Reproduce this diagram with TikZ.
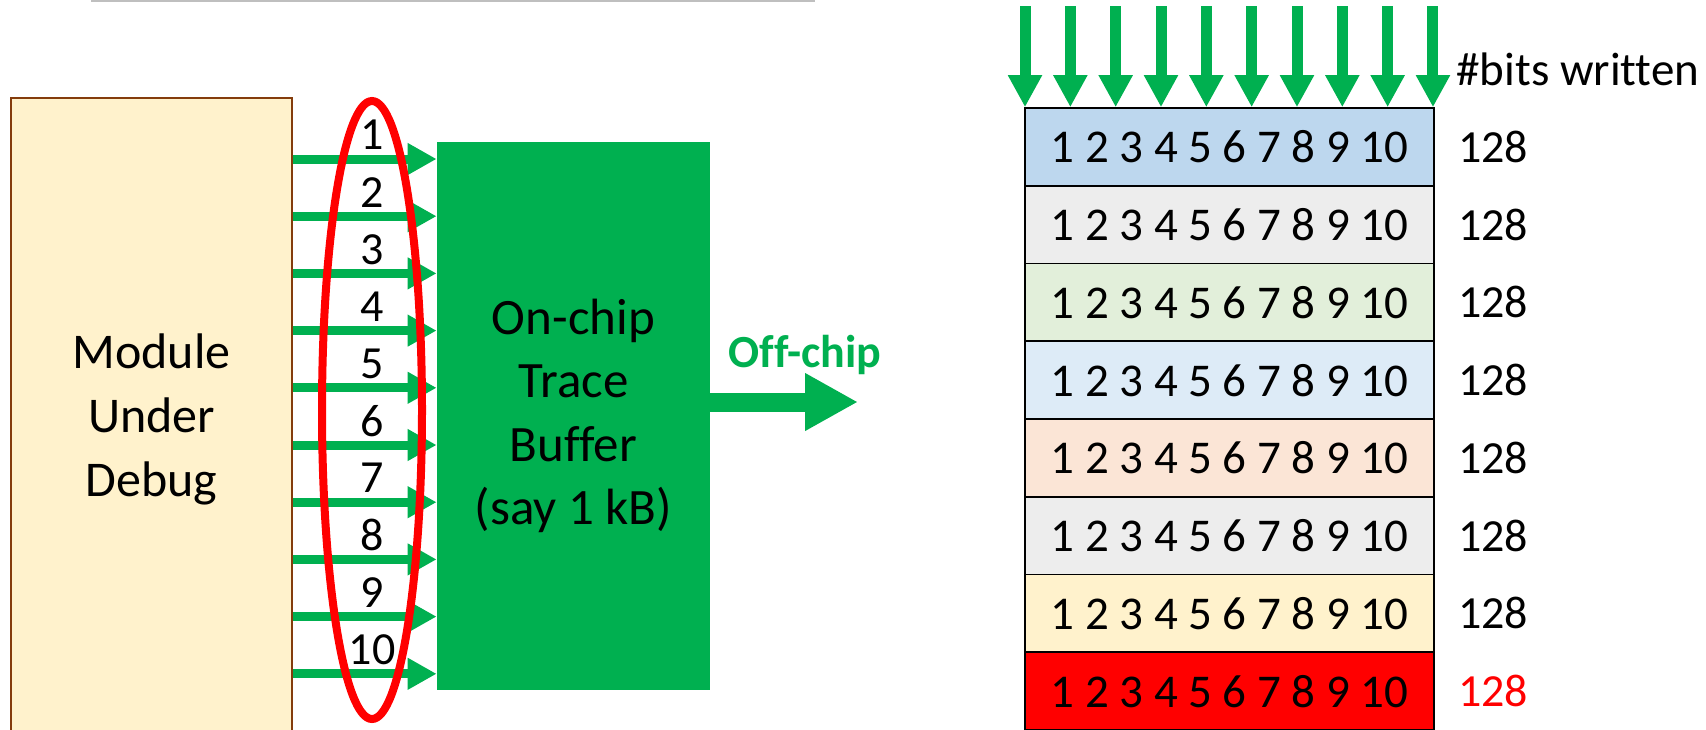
\documentclass[tikz,border=0pt]{standalone}
\usepackage{fontspec}
\setmainfont{Carlito}[Ligatures=NoCommon]
\usetikzlibrary{arrows.meta,positioning,shapes.geometric}
\definecolor{trgreen}{HTML}{00B050}
\definecolor{mudfill}{HTML}{FFF2CC}
\definecolor{mudline}{HTML}{843C0C}
\definecolor{rowA}{HTML}{BDD7EE}
\definecolor{rowB}{HTML}{EDEDED}
\definecolor{rowC}{HTML}{E2EFDA}
\definecolor{rowD}{HTML}{DDEBF7}
\definecolor{rowE}{HTML}{FBE5D6}
\definecolor{rulegray}{HTML}{BFBFBF}
\tikzset{
  box/.style    = {inner sep=0pt, align=center},
  bus/.style    = {-{Triangle[length=14.5pt,width=15pt]}, line width=4.5pt, trgreen},
  drop/.style   = {-{Triangle[length=16pt,width=16pt]}, line width=5.5pt, trgreen},
  offbus/.style = {-{Triangle[length=26.5pt,width=27pt]}, line width=9.5pt, trgreen},
  slot/.style   = {draw=black, line width=0.8pt, minimum width=204.5pt, minimum height=38.875pt,
                   inner sep=0pt, font=\fontsize{23.5}{28}\selectfont},
  bitlbl/.style = {inner sep=0pt, font=\fontsize{23}{28}\selectfont},
}
\begin{document}
\begin{tikzpicture}[x=0.5pt,y=-0.5pt]
  \clip (0,0) rectangle (1706,729);
  \draw[line width=1pt, rulegray] (91,1) -- (815,1);
  \node[box, draw=mudline, line width=1.25pt, fill=mudfill, minimum width=140.5pt,
        minimum height=321pt, font=\fontsize{25}{32}\selectfont] (mud) at (151.5,419)
        {Module\\Under\\Debug};
  \node[box, fill=trgreen, minimum width=136.5pt, minimum height=274pt,
        font=\fontsize{25.5}{31.75}\selectfont] (buf) at (573.5,416)
        {On-chip\\Trace\\Buffer\\(say 1 kB)};
  \foreach \i in {1,...,10} {
    \coordinate (w\i) at (0,{159+57.2*(\i-1)});
    \draw[bus] (mud.east |- w\i) -- (buf.west |- w\i);
  }
  \node[ellipse, draw=red, line width=4pt, inner sep=0pt, minimum width=50pt,
        minimum height=309pt] (sel) at (372,410) {};
  \foreach \i in {1,...,10}
    \node[bitlbl] (b\i) at (372,{135+57.2*(\i-1)}) {\i};
  \coordinate (offend) at (858,402);
  \draw[offbus] (buf.east |- offend) -- (offend);
  \node[inner sep=0pt, text=trgreen, font=\bfseries\fontsize{23}{28}\selectfont]
        (offlbl) at (805,355) {Off-chip};
  \foreach \c/\t [count=\i] in {rowA/black,rowB/black,rowC/black,rowD/black,
                                rowE/black,rowB/black,mudfill/black,red/red} {
    \node[slot, fill=\c] (r\i) at (1229.5,{108+77.75*(\i-0.5)}) {1 2 3 4 5 6 7 8 9 10};
    \node[bitlbl, anchor=west, text=\t] (n\i) at ([xshift=11.5pt]r\i.east) {128};
  }
  \foreach \j in {0,...,9} {
    \coordinate (t\j) at ({1025+45.33*\j},6);
    \draw[drop] (t\j) -- (t\j |- r1.north);
  }
  \node[inner sep=0pt, anchor=base west, font=\fontsize{23.5}{28}\selectfont]
        (hdr) at (1456,85) {\#bits written};
\end{tikzpicture}
\end{document}
